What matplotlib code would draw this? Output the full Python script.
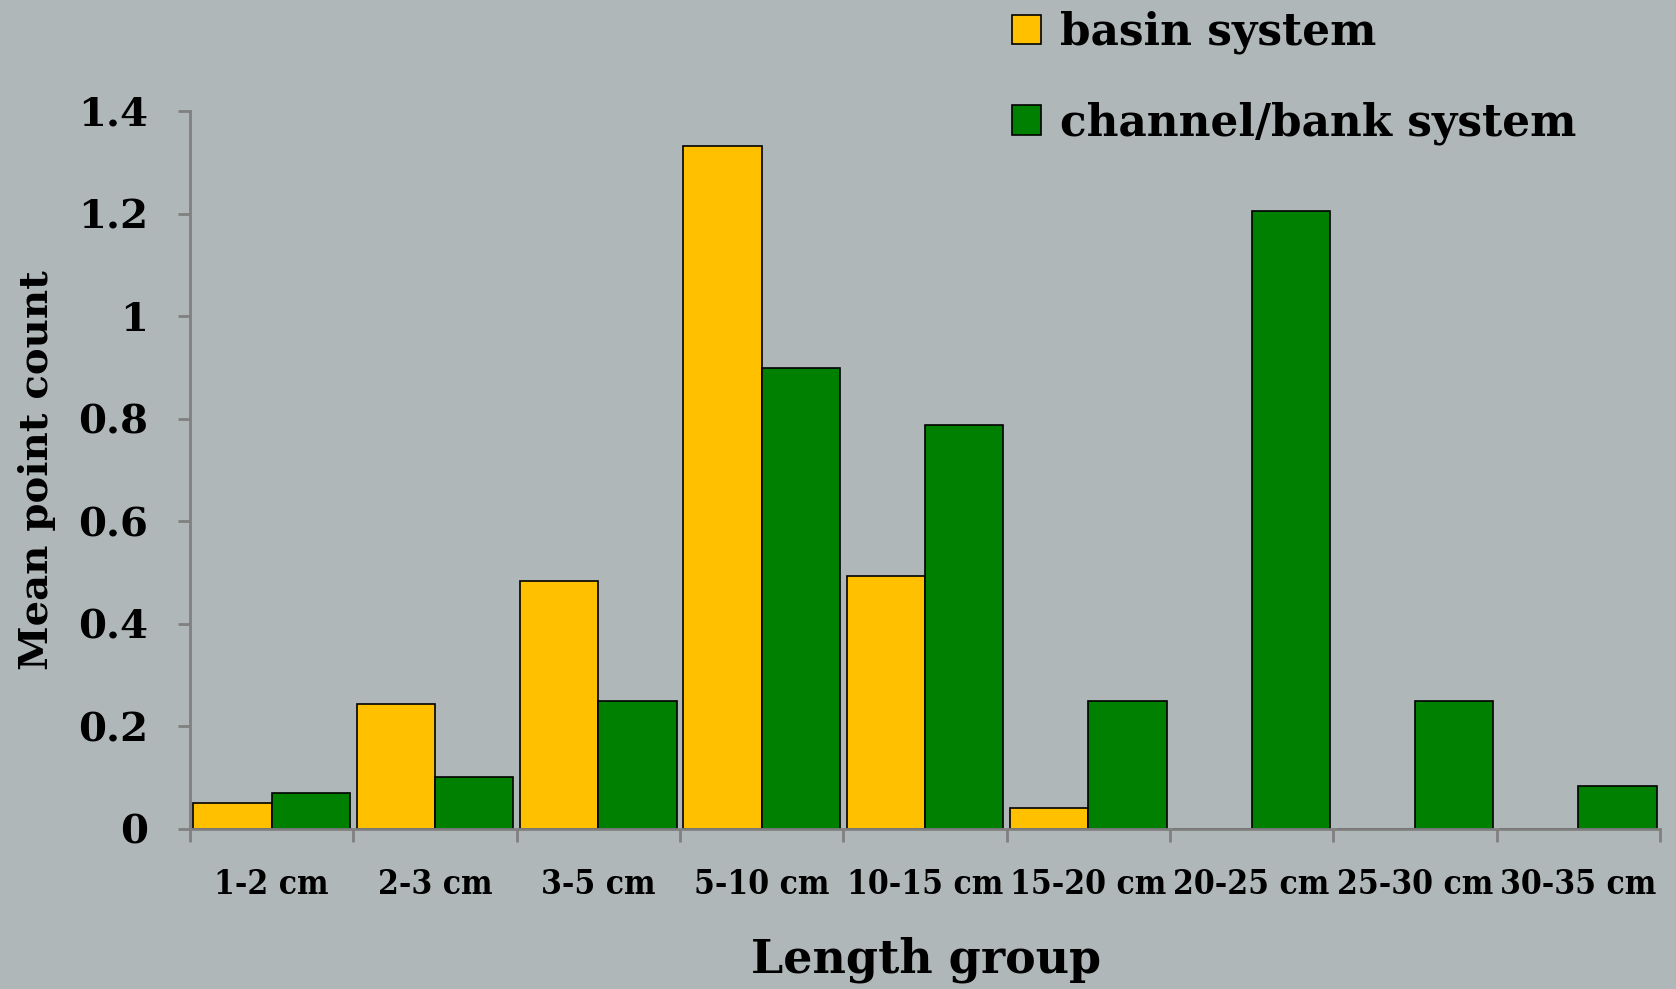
import matplotlib.pyplot as plt
import numpy as np

groups = ["1-2 cm", "2-3 cm", "3-5 cm", "5-10 cm", "10-15 cm",
          "15-20 cm", "20-25 cm", "25-30 cm", "30-35 cm"]
basin   = [0.05, 0.244, 0.483, 1.331, 0.494, 0.04, 0, 0, 0]
channel = [0.071, 0.102, 0.25, 0.898, 0.787, 0.25, 1.205, 0.25, 0.083]
yticks  = [0, 0.2, 0.4, 0.6, 0.8, 1, 1.2, 1.4]

bg = "#B0B7B8"
axis_grey = "#808080"
font = "DejaVu Serif"

fig = plt.figure(figsize=(16.76, 9.89), dpi=100, facecolor=bg)
ax = fig.add_axes([0.1134, 0.1618, 0.877, 0.7260], facecolor=bg)

x = np.arange(len(groups))
w = 0.48
b1 = ax.bar(x + 0.02, basin, w, align="edge", color="#FFC000",
            edgecolor="black", lw=1.2, label="basin system")
b2 = ax.bar(x + 0.02 + w, channel, w, align="edge", color="#008000",
            edgecolor="black", lw=1.2, label="channel/bank system")

ax.set_xlim(0, len(groups))
ax.set_ylim(0, 1.4)

for s in ["top", "right"]:
    ax.spines[s].set_visible(False)
for s in ["left", "bottom"]:
    ax.spines[s].set_color(axis_grey)
    ax.spines[s].set_linewidth(2)

# category boundaries get the tick marks, labels sit in the middle
ax.set_xticks(np.arange(len(groups) + 1))
ax.set_xticklabels([])
ax.set_xticks(x + 0.5, minor=True)
ax.set_xticklabels(groups, minor=True, fontsize=24, fontweight="bold",
                   family=font, fontstretch="condensed")
ax.tick_params(axis="x", which="major", length=9, width=2, color=axis_grey)
ax.tick_params(axis="x", which="minor", length=0, pad=28)

ax.set_yticks(yticks)
ax.set_yticklabels([f"{v:g}" for v in yticks], fontsize=29,
                   fontweight="bold", family=font)
ax.tick_params(axis="y", length=9, width=2, color=axis_grey, pad=21)

fig.text(0.022, 0.525, "Mean point count", rotation=90, ha="center",
         va="center", fontsize=29, fontweight="bold", family=font)
fig.text(0.5525, 0.030, "Length group", ha="center", va="center",
         fontsize=33, fontweight="bold", family=font)

fig.legend(handles=[b1, b2], loc="upper left", bbox_to_anchor=(0.5805, 1.029),
           frameon=False, prop={"family": font, "weight": "bold", "size": 31.5},
           handlelength=0.65, handleheight=0.65, handletextpad=0.45,
           labelspacing=1.08)

fig.savefig("out.png", dpi=100, facecolor=bg)
